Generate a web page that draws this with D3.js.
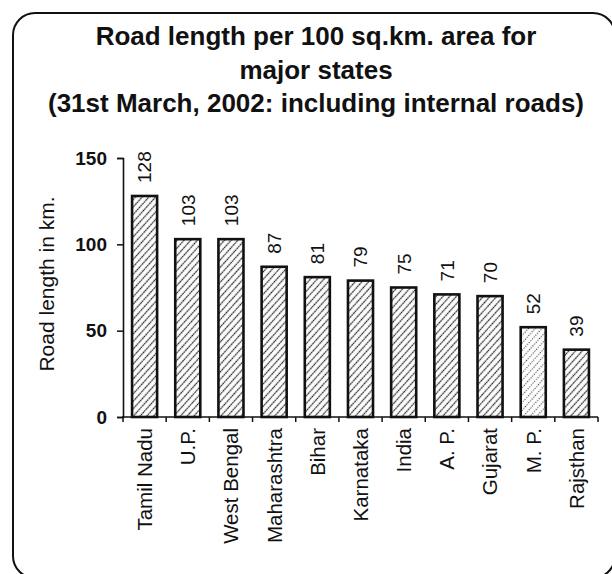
<!DOCTYPE html>
<html>
<head>
<meta charset="utf-8">
<script src="https://cdn.jsdelivr.net/npm/d3@7"></script>
<style>
  html, body { margin: 0; padding: 0; background: #fff; }
  svg { display: block; font-family: "Liberation Sans", Arial, Helvetica, sans-serif; }
</style>
</head>
<body>
<script>
// Road length per 100 sq.km. area, 31st March 2002
const states = ["Tamil Nadu", "U.P.", "West Bengal", "Maharashtra", "Bihar", "Karnataka",
                "India", "A. P.", "Gujarat", "M. P.", "Rajsthan"];
const roadLength = [128, 103, 103, 87, 81, 79, 75, 71, 70, 52, 39];
const yTicks = [0, 50, 100, 150];
const titleLines = ["Road length per 100 sq.km. area for",
                    "major states",
                    "(31st March, 2002: including internal roads)"];
const yAxisLabel = "Road length in km.";

const W = 612, H = 574;
const svg = d3.select("body").append("svg").attr("width", W).attr("height", H);

// hatch fills
const defs = svg.append("defs");
const hatch = defs.append("pattern")
  .attr("id", "hatch").attr("patternUnits", "userSpaceOnUse")
  .attr("width", 5).attr("height", 5)
  .attr("patternTransform", "rotate(42)");
hatch.append("rect").attr("width", 5).attr("height", 5).attr("fill", "#fff");
hatch.append("line").attr("x1", 2.5).attr("y1", 0).attr("x2", 2.5).attr("y2", 5)
  .attr("stroke", "#222").attr("stroke-width", 1.3).attr("stroke-dasharray", "1.8,0.8");

const stipple = defs.append("pattern")
  .attr("id", "stipple").attr("patternUnits", "userSpaceOnUse")
  .attr("width", 5).attr("height", 5)
  .attr("patternTransform", "rotate(42)");
stipple.append("rect").attr("width", 5).attr("height", 5).attr("fill", "#fff");
stipple.append("line").attr("x1", 2.5).attr("y1", 0).attr("x2", 2.5).attr("y2", 5)
  .attr("stroke", "#333").attr("stroke-width", 1.2).attr("stroke-dasharray", "1,1.5");

// rounded frame
svg.append("rect")
  .attr("x", 13).attr("y", 13).attr("width", 602).attr("height", 565)
  .attr("rx", 22).attr("ry", 22)
  .attr("fill", "none").attr("stroke", "#111").attr("stroke-width", 2);

// title
svg.append("g").selectAll("text").data(titleLines).join("text")
  .attr("x", 316).attr("y", (d, i) => 45 + i * 33.5)
  .attr("text-anchor", "middle")
  .attr("font-size", 26).attr("font-weight", "bold").attr("fill", "#111")
  .text(d => d);

// scales
const x = d3.scaleBand().domain(states).range([123, 598]).paddingInner(0.42).paddingOuter(0.21);
const y = d3.scaleLinear().domain([0, 150]).range([417, 158]);

// bars
svg.append("g").selectAll("rect").data(states).join("rect")
  .attr("x", d => x(d))
  .attr("y", (d, i) => y(roadLength[i]))
  .attr("width", x.bandwidth())
  .attr("height", (d, i) => y(0) - y(roadLength[i]))
  .attr("fill", d => d === "M. P." ? "url(#stipple)" : "url(#hatch)")
  .attr("stroke", "#111").attr("stroke-width", 2.6);

// value labels
svg.append("g").selectAll("text").data(states).join("text")
  .attr("transform", (d, i) => `translate(${x(d) + x.bandwidth() / 2},${y(roadLength[i]) - 13}) rotate(-90)`)
  .attr("dy", "0.36em")
  .attr("text-anchor", "start")
  .attr("font-size", 19).attr("fill", "#111")
  .text((d, i) => roadLength[i]);

// y axis
const yAxis = svg.append("g").attr("transform", "translate(123,0)")
  .call(d3.axisLeft(y).tickValues(yTicks).tickSize(6).tickPadding(10));
yAxis.select(".domain").attr("stroke", "#111").attr("stroke-width", 1.6);
yAxis.selectAll(".tick line").attr("stroke", "#111").attr("stroke-width", 1.5);
yAxis.selectAll(".tick text")
  .attr("font-family", "Liberation Sans, Arial, sans-serif")
  .attr("font-size", 19).attr("font-weight", "bold").attr("fill", "#111");

// x axis: baseline with ticks at the band boundaries
const step = x.step();
const x0 = x.range()[0];
svg.append("line")
  .attr("x1", x0 - 1).attr("x2", x.range()[1]).attr("y1", y(0)).attr("y2", y(0))
  .attr("stroke", "#111").attr("stroke-width", 1.6);
svg.append("g").selectAll("line").data(d3.range(states.length + 1)).join("line")
  .attr("x1", i => x0 + i * step).attr("x2", i => x0 + i * step)
  .attr("y1", y(0)).attr("y2", y(0) + 5)
  .attr("stroke", "#111").attr("stroke-width", 1.5);

// category labels
svg.append("g").selectAll("text").data(states).join("text")
  .attr("transform", d => `translate(${x(d) + x.bandwidth() / 2},${y(0) + 11}) rotate(-90)`)
  .attr("dy", "0.36em")
  .attr("text-anchor", "end")
  .attr("font-size", 20.5).attr("fill", "#111")
  .text(d => d);

// y axis title
svg.append("text")
  .attr("transform", "translate(54,284) rotate(-90)")
  .attr("text-anchor", "middle")
  .attr("font-size", 21).attr("fill", "#111")
  .text(yAxisLabel);
</script>
</body>
</html>
